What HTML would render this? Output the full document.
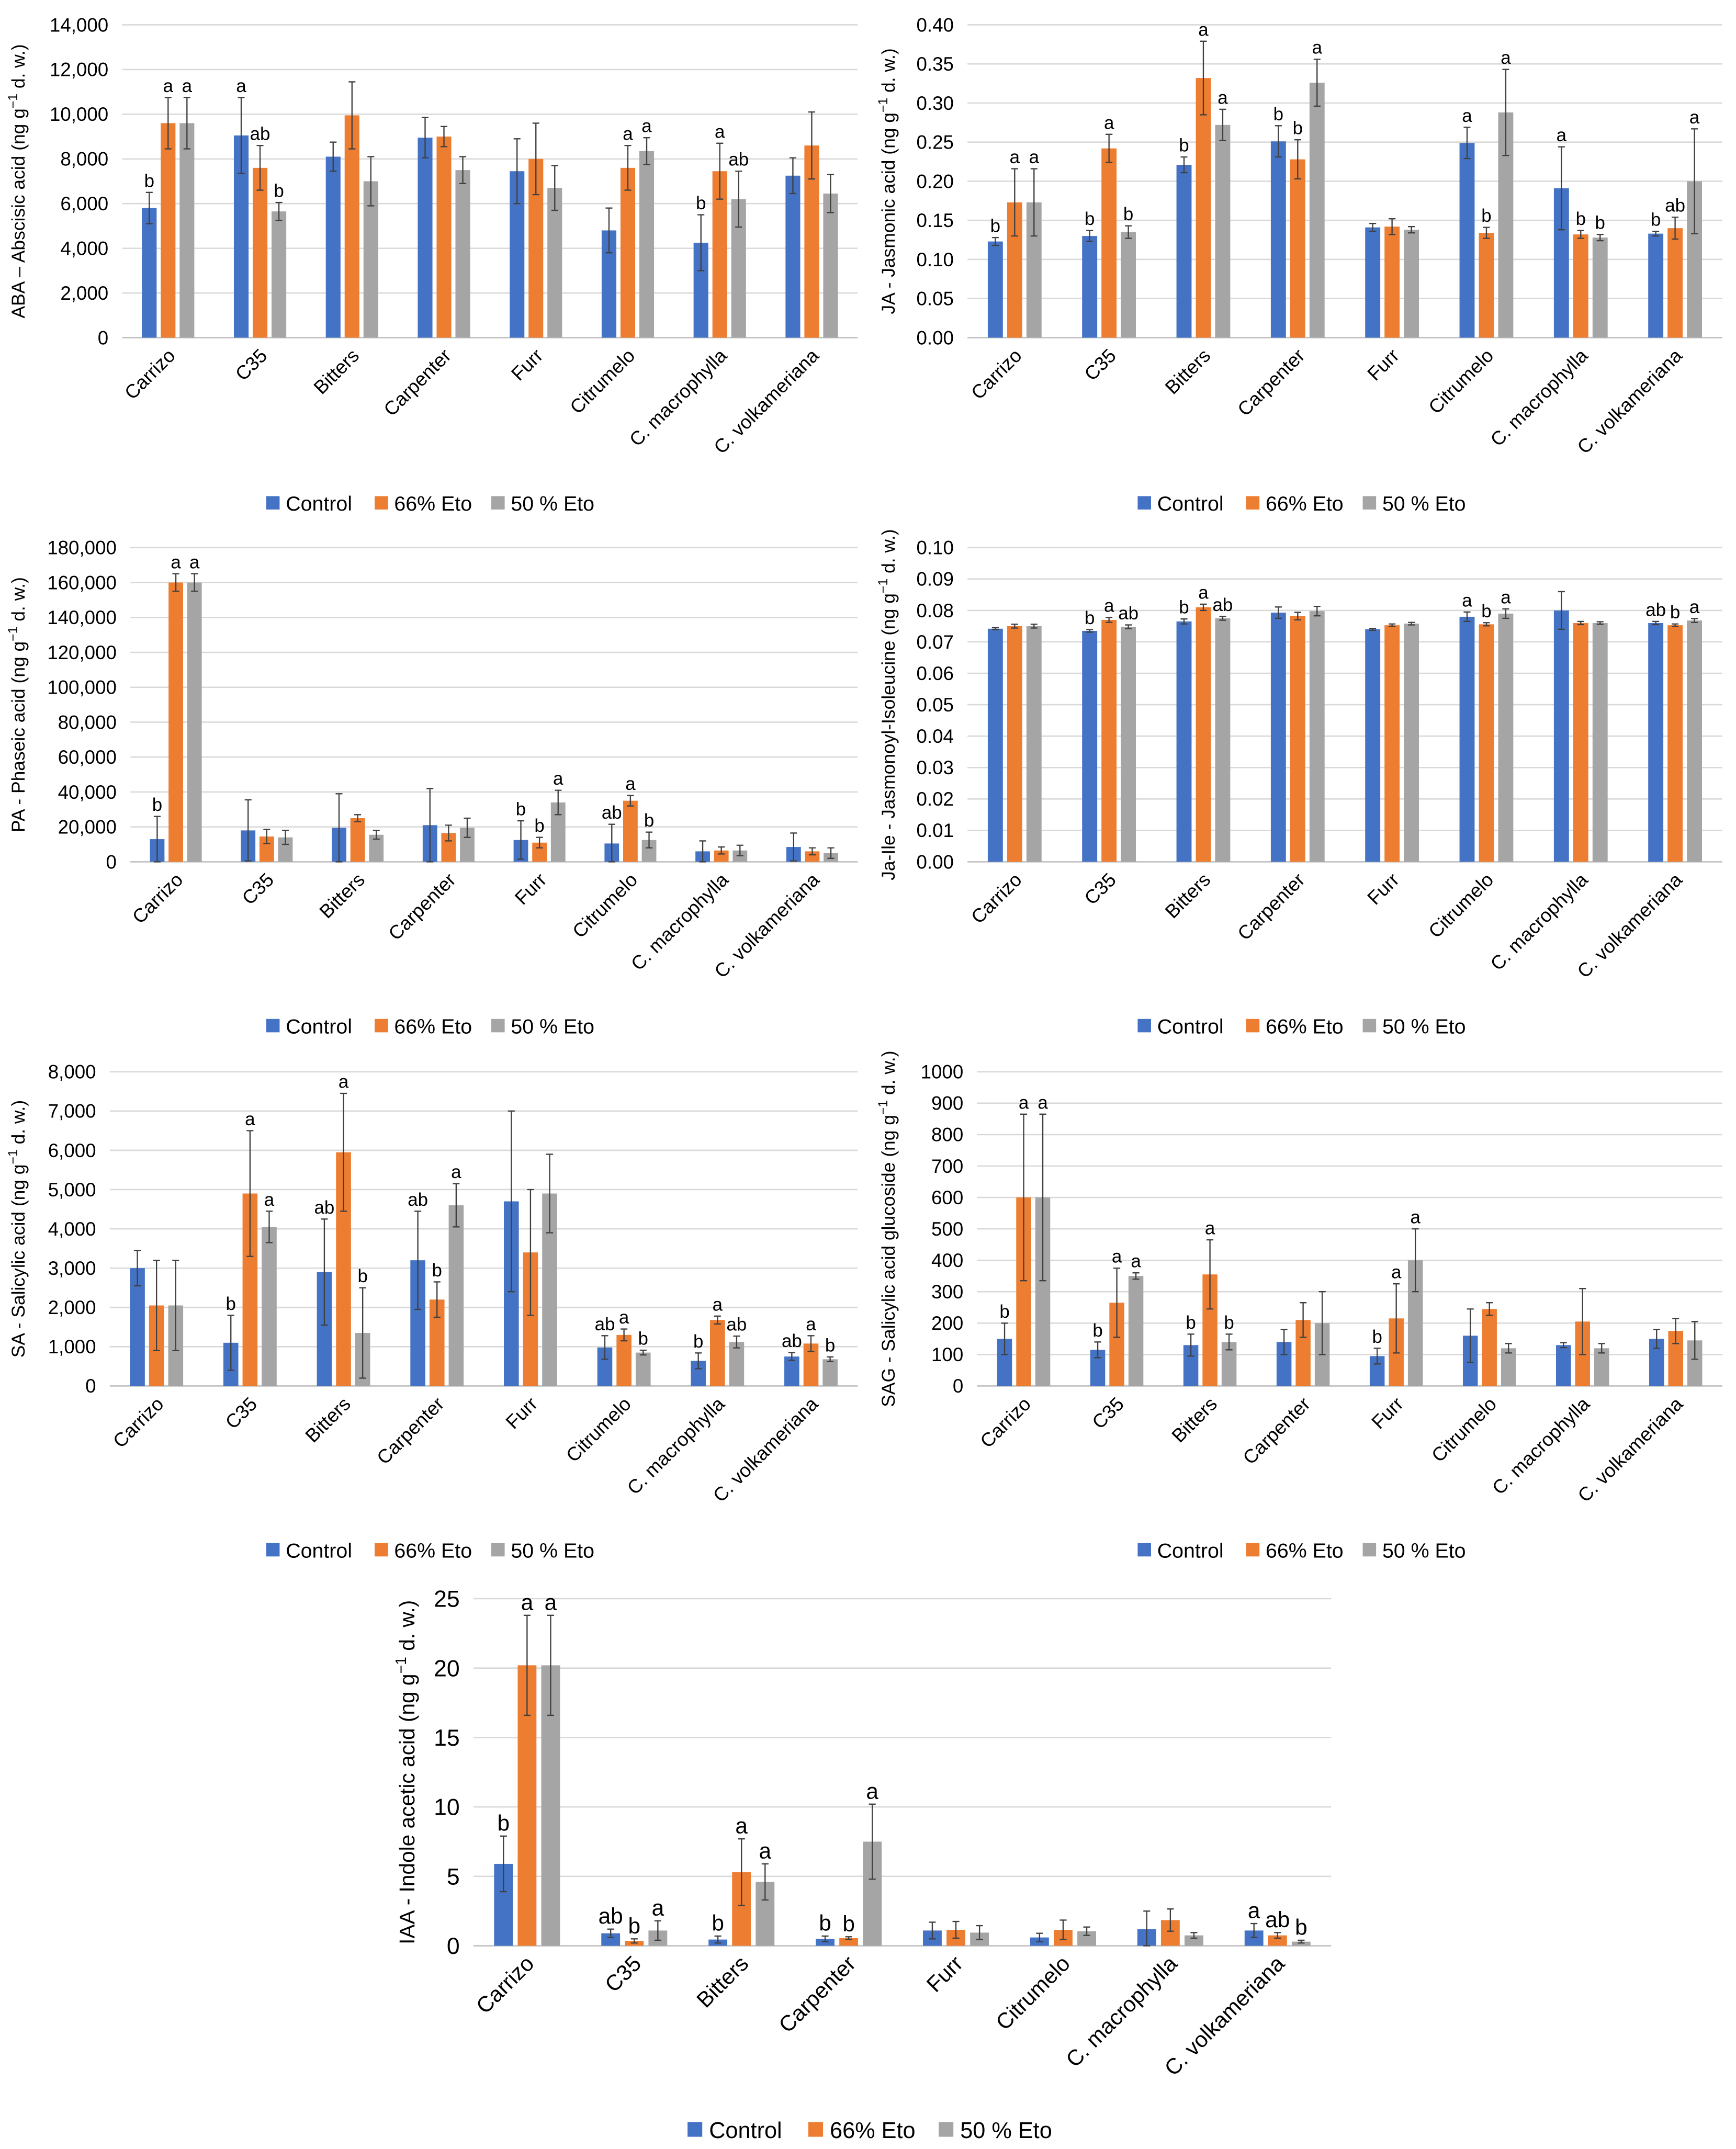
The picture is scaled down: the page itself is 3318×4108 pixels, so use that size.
<!DOCTYPE html>
<html><head><meta charset="utf-8"><style>
html,body{margin:0;padding:0;background:#fff;}
svg{display:block;font-family:"Liberation Sans",sans-serif;}
</style></head><body>
<svg id="fig" width="3318" height="4108" viewBox="0 0 1265 1566" xmlns="http://www.w3.org/2000/svg"></svg>
<script>
const categories=["Carrizo","C35","Bitters","Carpenter","Furr","Citrumelo","C. macrophylla","C. volkameriana"];
const seriesNames=["Control","66% Eto","50 % Eto"];
// ABA
const abaCtrl=[5800,9050,8100,8950,7450,4800,4250,7250];
const abaEto66=[9600,7600,9950,9000,8000,7600,7450,8600];
const abaEto50=[9600,5650,7000,7500,6700,8350,6200,6450];
const abaErrCtrl=[700,1700,650,900,1450,1000,1250,800];
const abaErr66=[1150,1000,1500,450,1600,1000,1250,1500];
const abaErr50=[1150,400,1100,600,1000,600,1250,850];
const abaLetters=[["b","a","a"],["a","ab","b"],["","",""],["","",""],["","",""],["","a","a"],["b","a","ab"],["","",""]];
const abaTicks=[0,2000,4000,6000,8000,10000,12000,14000];
// JA
const jaCtrl=[0.123,0.130,0.221,0.251,0.141,0.249,0.191,0.133];
const jaEto66=[0.173,0.242,0.332,0.228,0.142,0.134,0.132,0.140];
const jaEto50=[0.173,0.135,0.272,0.326,0.138,0.288,0.128,0.200];
const jaErrCtrl=[0.005,0.007,0.010,0.020,0.005,0.020,0.053,0.003];
const jaErr66=[0.043,0.018,0.047,0.025,0.010,0.007,0.005,0.014];
const jaErr50=[0.043,0.008,0.020,0.030,0.004,0.055,0.004,0.067];
const jaLetters=[["b","a","a"],["b","a","b"],["b","a","a"],["b","b","a"],["","",""],["a","b","a"],["a","b","b"],["b","ab","a"]];
const jaTicks=[0,0.05,0.10,0.15,0.20,0.25,0.30,0.35,0.40];
// PA
const paCtrl=[13000,18000,19500,21000,12500,10500,6000,8500];
const paEto66=[160000,14500,25000,16500,11000,35000,6500,6000];
const paEto50=[160000,14000,15500,19500,34000,12500,6500,5000];
const paErrCtrl=[13000,17500,19500,21000,11000,11000,6000,8000];
const paErr66=[5000,4000,2000,4500,3000,3000,2000,2000];
const paErr50=[5000,4000,2500,5500,7000,4500,3000,3000];
const paLetters=[["b","a","a"],["","",""],["","",""],["","",""],["b","b","a"],["ab","a","b"],["","",""],["","",""]];
const paTicks=[0,20000,40000,60000,80000,100000,120000,140000,160000,180000];
// JA-Ile
const ileCtrl=[0.0742,0.0735,0.0765,0.0793,0.0740,0.0780,0.0800,0.0760];
const ileEto66=[0.0750,0.0770,0.0810,0.0782,0.0753,0.0756,0.0760,0.0753];
const ileEto50=[0.0750,0.0748,0.0775,0.0798,0.0758,0.0790,0.0760,0.0768];
const ileErrCtrl=[0.0003,0.0004,0.0008,0.0018,0.0003,0.0015,0.0060,0.0005];
const ileErr66=[0.0006,0.0008,0.0010,0.0012,0.0004,0.0005,0.0005,0.0004];
const ileErr50=[0.0006,0.0006,0.0006,0.0015,0.0004,0.0015,0.0004,0.0006];
const ileLetters=[["","",""],["b","a","ab"],["b","a","ab"],["","",""],["","",""],["a","b","a"],["","",""],["ab","b","a"]];
const ileTicks=[0,0.01,0.02,0.03,0.04,0.05,0.06,0.07,0.08,0.09,0.10];
// SA
const saCtrl=[3000,1100,2900,3200,4700,980,640,750];
const saEto66=[2050,4900,5950,2200,3400,1300,1680,1080];
const saEto50=[2050,4050,1350,4600,4900,850,1120,680];
const saErrCtrl=[450,700,1350,1250,2300,300,200,100];
const saErr66=[1150,1600,1500,450,1600,150,100,200];
const saErr50=[1150,400,1150,550,1000,60,150,60];
const saLetters=[["","",""],["b","a","a"],["ab","a","b"],["ab","b","a"],["","",""],["ab","a","b"],["b","a","ab"],["ab","a","b"]];
const saTicks=[0,1000,2000,3000,4000,5000,6000,7000,8000];
// SAG
const sagCtrl=[150,115,130,140,95,160,130,150];
const sagEto66=[600,265,355,210,215,245,205,175];
const sagEto50=[600,350,140,200,400,120,120,145];
const sagErrCtrl=[50,25,35,40,25,85,8,30];
const sagErr66=[265,110,110,55,110,20,105,40];
const sagErr50=[265,10,25,100,100,15,15,60];
const sagLetters=[["b","a","a"],["b","a","a"],["b","a","b"],["","",""],["b","a","a"],["","",""],["","",""],["","",""]];
const sagTicks=[0,100,200,300,400,500,600,700,800,900,1000];
// IAA
const iaaCtrl=[5.9,0.9,0.45,0.5,1.1,0.6,1.2,1.1];
const iaaEto66=[20.2,0.35,5.3,0.55,1.15,1.15,1.85,0.75];
const iaaEto50=[20.2,1.1,4.6,7.5,0.95,1.05,0.75,0.3];
const iaaErrCtrl=[2.0,0.3,0.25,0.2,0.6,0.3,1.3,0.5];
const iaaErr66=[3.6,0.15,2.4,0.1,0.6,0.7,0.8,0.2];
const iaaErr50=[3.6,0.7,1.3,2.7,0.5,0.3,0.2,0.1];
const iaaLetters=[["b","a","a"],["ab","b","a"],["b","a","a"],["b","b","a"],["","",""],["","",""],["","",""],["a","ab","b"]];
const iaaTicks=[0,5,10,15,20,25];

const NS="http://www.w3.org/2000/svg";
const svg=document.getElementById("fig");
const colors=["#4472C4","#ED7D31","#A5A5A5"];
function mk(tag,attrs,parent,text){const e=document.createElementNS(NS,tag);for(const k in attrs)e.setAttribute(k,attrs[k]);if(text!==undefined)e.textContent=text;(parent||svg).appendChild(e);return e;}
function fmt(v,dec,nocomma){return dec>0?v.toFixed(dec):(nocomma?String(v):v.toLocaleString("en-US"));}

function chart(o){
  const g=mk("g",{});
  
  
  const y=v=>o.y0-(v-o.min)/(o.max-o.min)*(o.y0-o.y1);
  const gw=(o.x1-o.x0)/categories.length;
  const x=i=>o.x0+gw*(i+0.5);
  o.ticks.forEach(t=>{
    const l=mk("line",{x1:o.x0,x2:o.x1,y1:y(t),y2:y(t),stroke:t===0?"#BFBFBF":"#D9D9D9","stroke-width":1},g);
    
    
    const tt=mk("text",{x:o.x0-10,y:y(t)+o.fs*0.35,"text-anchor":"end","font-size":o.fs,fill:"#000"},g,fmt(t,o.dec,o.nocomma));
    
    
  });
  const bw=gw*o.bwf, gap=gw*0.045;
  const series=[o.s0,o.s1,o.s2], errs=[o.e0,o.e1,o.e2];
  categories.forEach((c,i)=>{
    for(let s=0;s<3;s++){
      const bx=x(i)+(s-1)*(bw+gap)-bw/2;
      const v=series[s][i];
      const r=mk("rect",{x:bx,y:y(v),width:bw,height:y(0)-y(v),fill:colors[s]},g);
      
      
      const e=errs[s][i], cx=bx+bw/2;
      const top=y(v+e), bot=y(Math.max(o.min,v-e));
      const el=mk("path",{d:`M${cx},${top}V${bot}M${cx-2.5},${top}h5M${cx-2.5},${bot}h5`,stroke:"#404040","stroke-width":0.9,fill:"none"},g);
      
      
      const L=o.letters[i][s];
      if(L){const lt=mk("text",{x:cx,y:top-4,"text-anchor":"middle","font-size":o.fs*0.95,fill:"#000"},g,L);
        
        }
    }
    const tx=x(i)+6, ty=o.y0+14;
    const cl=mk("text",{x:tx,y:ty,"text-anchor":"end","font-size":o.cfs,transform:`rotate(-45 ${tx} ${ty})`},g,c);
    
    
  });
  const ty=(o.y0+o.y1)/2;
  const at=mk("text",{x:o.tx,y:ty,"text-anchor":"middle","font-size":o.tfs,transform:`rotate(-90 ${o.tx} ${ty})`},g);
  
  
  mk("tspan",{},at,o.title+" (ng g");
  mk("tspan",{dy:-o.tfs*0.4,"font-size":o.tfs*0.7},at,"−1");
  mk("tspan",{dy:o.tfs*0.4},at," d. w.)");
  const lg=mk("g",{},g);
  
  
  let lx=o.lx;
  seriesNames.forEach((n,s)=>{
    const sq=mk("rect",{x:lx,y:o.ly-o.lfs*0.7,width:o.lfs*0.65,height:o.lfs*0.65,fill:colors[s]},lg);
    
    
    const t=mk("text",{x:lx+o.lfs*0.95,y:o.ly,"font-size":o.lfs},lg,n);
    
    
    lx+=o.lstep[s];
  });
}
const leftL=[79,85,0], rightL=[79,85,0];
chart({name:"aba-chart",x0:89,x1:625,y0:246,y1:18,min:0,max:14000,ticks:abaTicks,dec:0,s0:abaCtrl,s1:abaEto66,s2:abaEto50,e0:abaErrCtrl,e1:abaErr66,e2:abaErr50,letters:abaLetters,title:"ABA – Abscisic acid",tx:18,fs:14,cfs:14,tfs:13.5,bwf:0.16,lx:194,ly:372,lfs:15,lstep:leftL});
chart({name:"ja-chart",x0:705,x1:1255,y0:246,y1:18,min:0,max:0.40,ticks:jaTicks,dec:2,s0:jaCtrl,s1:jaEto66,s2:jaEto50,e0:jaErrCtrl,e1:jaErr66,e2:jaErr50,letters:jaLetters,title:"JA - Jasmonic acid",tx:652,fs:14,cfs:14,tfs:13.5,bwf:0.16,lx:829,ly:372,lfs:15,lstep:rightL});
chart({name:"pa-chart",x0:95,x1:625,y0:628,y1:399,min:0,max:180000,ticks:paTicks,dec:0,s0:paCtrl,s1:paEto66,s2:paEto50,e0:paErrCtrl,e1:paErr66,e2:paErr50,letters:paLetters,title:"PA - Phaseic acid",tx:18,fs:14,cfs:14,tfs:13.5,bwf:0.16,lx:194,ly:753,lfs:15,lstep:leftL});
chart({name:"ja-ile-chart",x0:705,x1:1255,y0:628,y1:399,min:0,max:0.10,ticks:ileTicks,dec:2,s0:ileCtrl,s1:ileEto66,s2:ileEto50,e0:ileErrCtrl,e1:ileErr66,e2:ileErr50,letters:ileLetters,title:"Ja-Ile - Jasmonoyl-Isoleucine",tx:652,fs:14,cfs:14,tfs:13.5,bwf:0.16,lx:829,ly:753,lfs:15,lstep:rightL});
chart({name:"sa-chart",x0:80,x1:625,y0:1010,y1:781,min:0,max:8000,ticks:saTicks,dec:0,s0:saCtrl,s1:saEto66,s2:saEto50,e0:saErrCtrl,e1:saErr66,e2:saErr50,letters:saLetters,title:"SA - Salicylic acid",tx:18,fs:14,cfs:14,tfs:13.5,bwf:0.16,lx:194,ly:1135,lfs:15,lstep:leftL});
chart({name:"sag-chart",x0:712,x1:1255,y0:1010,y1:781,min:0,max:1000,ticks:sagTicks,dec:0,nocomma:true,s0:sagCtrl,s1:sagEto66,s2:sagEto50,e0:sagErrCtrl,e1:sagErr66,e2:sagErr50,letters:sagLetters,title:"SAG - Salicylic acid glucoside",tx:652,fs:14,cfs:14,tfs:13.5,bwf:0.16,lx:829,ly:1135,lfs:15,lstep:rightL});
chart({name:"iaa-chart",x0:345,x1:970,y0:1418,y1:1165,min:0,max:25,ticks:iaaTicks,dec:0,s0:iaaCtrl,s1:iaaEto66,s2:iaaEto50,e0:iaaErrCtrl,e1:iaaErr66,e2:iaaErr50,letters:iaaLetters,title:"IAA - Indole acetic acid",tx:302,fs:17,cfs:16,tfs:15.5,bwf:0.175,lx:501,ly:1558,lfs:16.5,lstep:[88,95,0]});
</script>
</body></html>
